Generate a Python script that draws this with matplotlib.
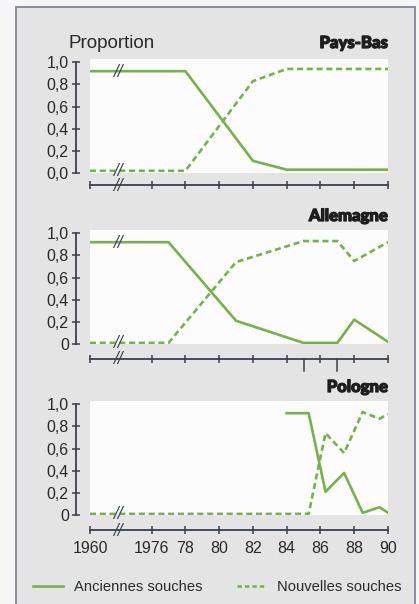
import matplotlib.pyplot as plt
import matplotlib.patheffects as pe
from matplotlib.patches import Rectangle
from matplotlib.lines import Line2D

# data -----------------------------------------------------------------
tick_years = [1960, 1976, 1978, 1980, 1982, 1984, 1986, 1988, 1990]
tick_labels = ["1960", "1976", "78", "80", "82", "84", "86", "88", "90"]

pb_years = [1960, 1978, 1982, 1984, 1990]
pb_anciennes = [0.92, 0.92, 0.11, 0.03, 0.03]
pb_nouvelles = [0.02, 0.02, 0.83, 0.94, 0.94]

al_years = [1960, 1977, 1981, 1985, 1987, 1988, 1990]
al_anciennes = [0.92, 0.92, 0.21, 0.01, 0.01, 0.22, 0.02]
al_nouvelles = [0.01, 0.01, 0.74, 0.93, 0.93, 0.75, 0.92]
al_extra_ticks = [1985, 1987]

po_years_anc = [1984, 1985.3, 1986.3, 1987.4, 1988.5, 1989.5, 1990]
po_anciennes = [0.92, 0.92, 0.21, 0.38, 0.02, 0.07, 0.02]
po_years_nouv = [1960, 1985.3, 1986.3, 1987.4, 1988.5, 1989.5, 1990]
po_nouvelles = [0.01, 0.01, 0.74, 0.56, 0.93, 0.87, 0.91]

yticks = [0, 0.2, 0.4, 0.6, 0.8, 1.0]


# 1960 sits just left of a broken axis
def to_pos(y):
    return y if y >= 1976 else 1972.35


BREAK = 1974.0
GREEN = "#76b347"
DARK = "#3a3f4c"
W, H = 419, 604
YTOP = 1.03
DASH = (2.3, 1.4)

plt.rcParams["font.family"] = ["Liberation Sans", "DejaVu Sans"]

fig = plt.figure(figsize=(W / 100, H / 100), dpi=100, facecolor="#f6f6f6")
fig.patches.append(Rectangle((16 / W, -0.05), 399 / W, 1.05 - 7 / H,
                             transform=fig.transFigure, facecolor="#e4e4e4",
                             edgecolor="#8a8c9a", lw=1.4, zorder=-10))


def brk(ax, x, y, **kw):
    ax.annotate("//", xy=(x, y), ha="center", va="center", fontsize=10.5,
                style="italic", family="DejaVu Sans", color=DARK,
                annotation_clip=False, zorder=4, **kw)


def panel(top_px, bottom_px, axis_gap, title, title_px, zero_label,
          x_anc, y_anc, x_nouv, y_nouv, show_labels=False, breaks_on=()):
    ax = fig.add_axes([90 / W, 1 - bottom_px / H, 298 / W,
                       (bottom_px - top_px) / H])
    ax.set_facecolor("#fcfcfc")
    ax.plot([to_pos(v) for v in x_anc], y_anc, color=GREEN, lw=1.9,
            zorder=3)
    ax.plot([to_pos(v) for v in x_nouv], y_nouv, color=GREEN, lw=1.9,
            dashes=DASH, zorder=3)
    ax.set_xlim(to_pos(1960), 1990)
    ax.set_ylim(0, YTOP)
    for s in ["top", "right"]:
        ax.spines[s].set_visible(False)
    ax.spines["left"].set_position(("outward", 10))
    ax.spines["bottom"].set_position(("outward", axis_gap * 0.72))
    ax.spines["left"].set_bounds(0, 1)
    ax.spines["bottom"].set_bounds(to_pos(1960), 1990)
    for s in ["left", "bottom"]:
        ax.spines[s].set_color(DARK)
        ax.spines[s].set_linewidth(1.3)
    ax.set_yticks(yticks)
    ax.set_yticklabels([("0" if zero_label else "0,0") if v == 0 else
                        f"{v:.1f}".replace(".", ",") for v in yticks])
    ax.set_xticks([to_pos(v) for v in tick_years])
    ax.set_xticklabels(tick_labels if show_labels else [])
    ax.tick_params(axis="both", direction="inout", length=5.5, width=1.1,
                   color=DARK, labelsize=11.5, labelcolor="#2a2a2a")
    ax.tick_params(axis="y", pad=2.5)
    ax.tick_params(axis="x", pad=5)
    # break marks on the axis and on the lines
    brk(ax, BREAK, -axis_gap * YTOP / (bottom_px - top_px))
    for v in breaks_on:
        brk(ax, BREAK, v)
    fig.text(388 / W, 1 - title_px / H, title, ha="right", va="center",
             fontsize=12, family=["Lato", "DejaVu Sans"], weight="black",
             color="#1e1e1e",
             path_effects=[pe.withStroke(linewidth=0.9, foreground="#1e1e1e")])
    return ax


ax1 = panel(59, 173, 12, "Pays-Bas", 43, False, pb_years, pb_anciennes,
            pb_years, pb_nouvelles,
            breaks_on=(pb_anciennes[0], pb_nouvelles[0]))
fig.text(68 / W, 1 - 43 / H, "Proportion", ha="left", va="center",
         fontsize=13.5, color="#2a2a2a")

ax2 = panel(230, 344, 15, "Allemagne", 216, True, al_years, al_anciennes,
            al_years, al_nouvelles,
            breaks_on=(al_anciennes[0], al_nouvelles[0]))
# extra downward ticks on the Allemagne axis
px = YTOP / 114
for v in al_extra_ticks:
    ax2.plot([v, v], [-15 * px, -27 * px], color=DARK, lw=1.1,
             clip_on=False)

ax3 = panel(401, 515, 15, "Pologne", 387, True, po_years_anc, po_anciennes,
            po_years_nouv, po_nouvelles, show_labels=True,
            breaks_on=(po_nouvelles[0],))

handles = [Line2D([], [], color=GREEN, lw=1.9),
           Line2D([], [], color=GREEN, lw=1.9, dashes=(1.7, 1.1))]
fig.legend(handles, ["Anciennes souches", "Nouvelles souches"], ncol=2,
           loc="center left", bbox_to_anchor=(20 / W, 1 - 587 / H),
           frameon=False, fontsize=10.6, handlelength=2.0,
           handletextpad=0.75, columnspacing=2.35, labelcolor="#2a2a2a")

fig.savefig("out.png", dpi=100, facecolor=fig.get_facecolor())
